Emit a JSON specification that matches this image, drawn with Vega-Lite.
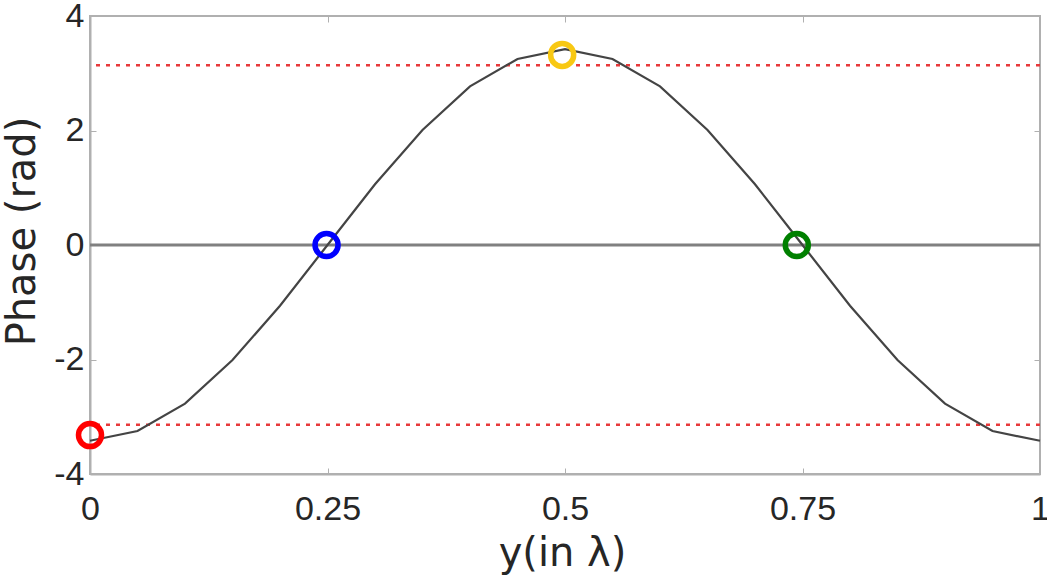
{
  "$schema": "https://vega.github.io/schema/vega-lite/v6.json",
  "width": 950,
  "height": 458,
  "autosize": "none",
  "padding": {"left": 90, "top": 16, "right": 7, "bottom": 104},
  "background": "white",
  "config": {
    "view": {"stroke": "#b0b0b0", "strokeWidth": 2},
    "axis": {
      "domainColor": "#b0b0b0",
      "domainWidth": 2,
      "tickColor": "#b0b0b0",
      "tickWidth": 1,
      "tickSize": -6,
      "grid": false,
      "labelFont": "Liberation Sans",
      "labelFontSize": 34,
      "labelColor": "#262626",
      "titleFont": "DejaVu Sans",
      "titleFontSize": 40,
      "titleFontWeight": "normal",
      "titleColor": "#262626"
    }
  },
  "datasets": {
    "curve": [
      {"y": 0.0, "phase": -3.42},
      {"y": 0.05, "phase": -3.25},
      {"y": 0.1, "phase": -2.77},
      {"y": 0.15, "phase": -2.01},
      {"y": 0.2, "phase": -1.06},
      {"y": 0.25, "phase": 0.0},
      {"y": 0.3, "phase": 1.06},
      {"y": 0.35, "phase": 2.01},
      {"y": 0.4, "phase": 2.77},
      {"y": 0.45, "phase": 3.25},
      {"y": 0.5, "phase": 3.42},
      {"y": 0.55, "phase": 3.25},
      {"y": 0.6, "phase": 2.77},
      {"y": 0.65, "phase": 2.01},
      {"y": 0.7, "phase": 1.06},
      {"y": 0.75, "phase": 0.0},
      {"y": 0.8, "phase": -1.06},
      {"y": 0.85, "phase": -2.01},
      {"y": 0.9, "phase": -2.77},
      {"y": 0.95, "phase": -3.25},
      {"y": 1.0, "phase": -3.42}
    ],
    "limits": [
      {"phase": 3.14159},
      {"phase": -3.14159}
    ],
    "zero": [
      {"phase": 0}
    ],
    "markers": [
      {"y": 0.0, "phase": -3.32, "c": "red"},
      {"y": 0.249, "phase": 0.0, "c": "blue"},
      {"y": 0.497, "phase": 3.32, "c": "yellow"},
      {"y": 0.744, "phase": 0.0, "c": "green"}
    ]
  },
  "resolve": {"axis": {"x": "independent", "y": "independent"}},
  "layer": [
    {
      "data": {"name": "zero"},
      "mark": {"type": "rule", "color": "#808080", "strokeWidth": 3},
      "encoding": {
        "y": {"field": "phase", "type": "quantitative", "scale": {"domain": [-4, 4], "nice": false},
          "axis": {"orient": "right", "values": [-4, -2, 0, 2, 4], "labels": false, "title": null, "domain": false}}
      }
    },
    {
      "data": {"name": "limits"},
      "mark": {"type": "rule", "color": "#e8393b", "strokeWidth": 2.5, "strokeDash": [4, 6]},
      "encoding": {
        "y": {"field": "phase", "type": "quantitative", "axis": null}
      }
    },
    {
      "data": {"name": "curve"},
      "mark": {"type": "line", "color": "#444444", "strokeWidth": 2.2},
      "encoding": {
        "x": {"field": "y", "type": "quantitative", "scale": {"domain": [0, 1], "nice": false},
          "axis": {"orient": "top", "values": [0, 0.25, 0.5, 0.75, 1], "labels": false, "title": null, "domain": false}},
        "y": {"field": "phase", "type": "quantitative", "axis": null}
      }
    },
    {
      "data": {"name": "markers"},
      "mark": {"type": "point", "shape": "circle", "filled": false, "size": 530, "strokeWidth": 5.5, "opacity": 1},
      "encoding": {
        "x": {"field": "y", "type": "quantitative",
          "axis": {"orient": "bottom", "values": [0, 0.25, 0.5, 0.75, 1], "title": "y(in λ)", "labelPadding": 24, "labelFlush": false,
            "labelExpr": "toString(datum.value)",
            "titleBaseline": "alphabetic", "titleX": 472, "titleY": 91}},
        "y": {"field": "phase", "type": "quantitative",
          "axis": {"orient": "left", "values": [-4, -2, 0, 2, 4], "title": "Phase (rad)", "labelPadding": 12,
            "labelExpr": "toString(datum.value)",
            "titleBaseline": "alphabetic", "titleX": -56, "titleY": 215}},
        "color": {"field": "c", "type": "nominal", "legend": null,
          "scale": {"domain": ["red", "blue", "yellow", "green"], "range": ["#ff0000", "#0000ff", "#f8c813", "#008000"]}}
      }
    }
  ]
}
